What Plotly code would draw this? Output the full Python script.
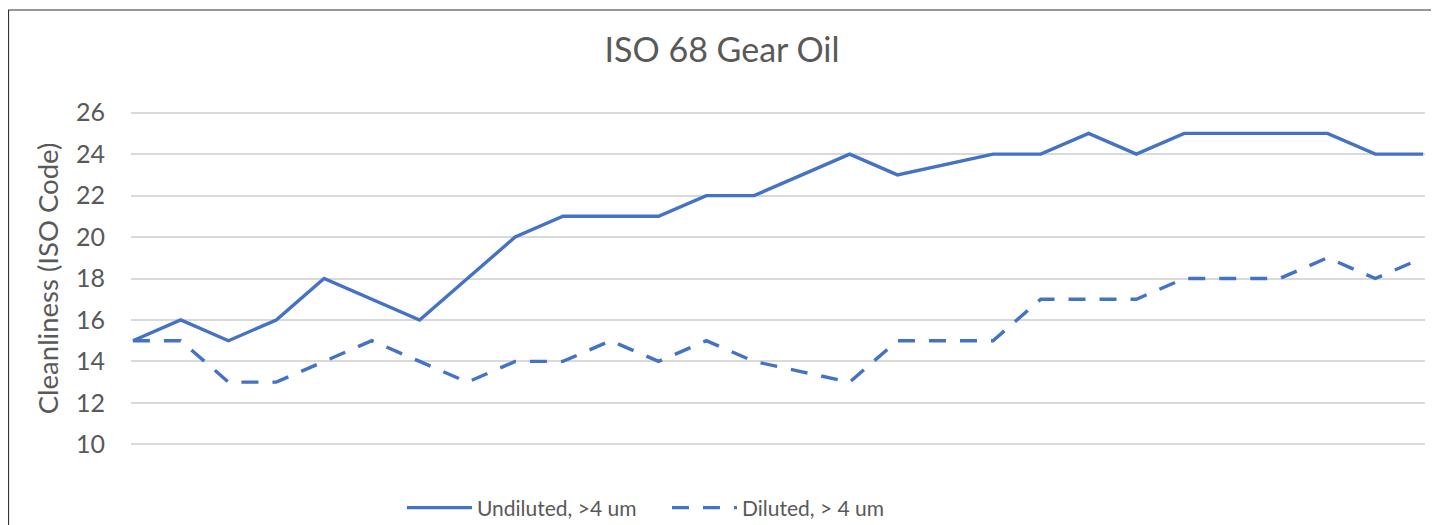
import plotly.graph_objects as go

# sample index along the x axis (no labels shown on the chart)
samples = list(range(1, 29))

undiluted = [15, 16, 15, 16, 18, 17, 16, 18, 20, 21, 21, 21, 22, 22,
             23, 24, 23, 23.5, 24, 24, 25, 24, 25, 25, 25, 25, 24, 24]
diluted = [15, 15, 13, 13, 14, 15, 14, 13, 14, 14, 15, 14, 15, 14,
           13.5, 13, 15, 15, 15, 17, 17, 17, 18, 18, 18, 19, 18, 19]

y_ticks = [10, 12, 14, 16, 18, 20, 22, 24, 26]

blue = "#4472C4"
grey_text = "#595959"
font = "Lato"

# the page body has an 8px margin, so the figure is a bit smaller than the window
W, H = 1431, 517
ml, mr, mt, mb = 123, 14, 103, 79
pw, ph = W - ml - mr, H - mt - mb

fig = go.Figure()
fig.add_trace(go.Scatter(x=samples, y=undiluted, mode="lines", name="Undiluted, >4 um",
                         line=dict(color=blue, width=3.4)))
fig.add_trace(go.Scatter(x=samples, y=diluted, mode="lines", name="Diluted, > 4 um",
                         line=dict(color=blue, width=3.4, dash="17px,14px")))

fig.update_layout(
    width=W, height=H,
    paper_bgcolor="white", plot_bgcolor="white",
    margin=dict(l=ml, r=mr, t=mt, b=mb),
    title=dict(text="ISO 68 Gear Oil", x=0.499, xanchor="center", y=0.919, yanchor="middle",
               font=dict(family=font, size=34, color=grey_text)),
    font=dict(family=font, color=grey_text),
    legend=dict(orientation="h", x=0.2094, xanchor="left", yref="container", y=0.033,
                yanchor="middle", itemwidth=65, entrywidth=185,
                font=dict(size=21, color=grey_text), bgcolor="rgba(0,0,0,0)"),
    showlegend=True,
)

fig.update_xaxes(range=[0.96, 28.04], showticklabels=False, showgrid=False,
                 zeroline=False, showline=False, ticks="")
# range padded a little so the gridlines at 10 and 26 are not clipped at the edges
fig.update_yaxes(range=[9.92, 26.08], tickvals=y_ticks, showgrid=True, gridcolor="#d9d9d9",
                 gridwidth=2, zeroline=False, showline=False, ticks="",
                 tickfont=dict(size=25, color=grey_text), ticklabelstandoff=25,
                 title=dict(text="Cleanliness (ISO Code)", standoff=9,
                            font=dict(size=27.5, color=grey_text)))

# outer frame of the chart area (screenshot border)
fig.add_shape(type="rect", xref="paper", yref="paper",
              x0=(0.5 - ml) / pw, x1=(W + 10 - ml) / pw,
              y0=-(mb + 20) / ph, y1=(ph + mt - 2) / ph,
              line=dict(color="#333333", width=1.2), layer="below")

fig.write_html("out.html")
